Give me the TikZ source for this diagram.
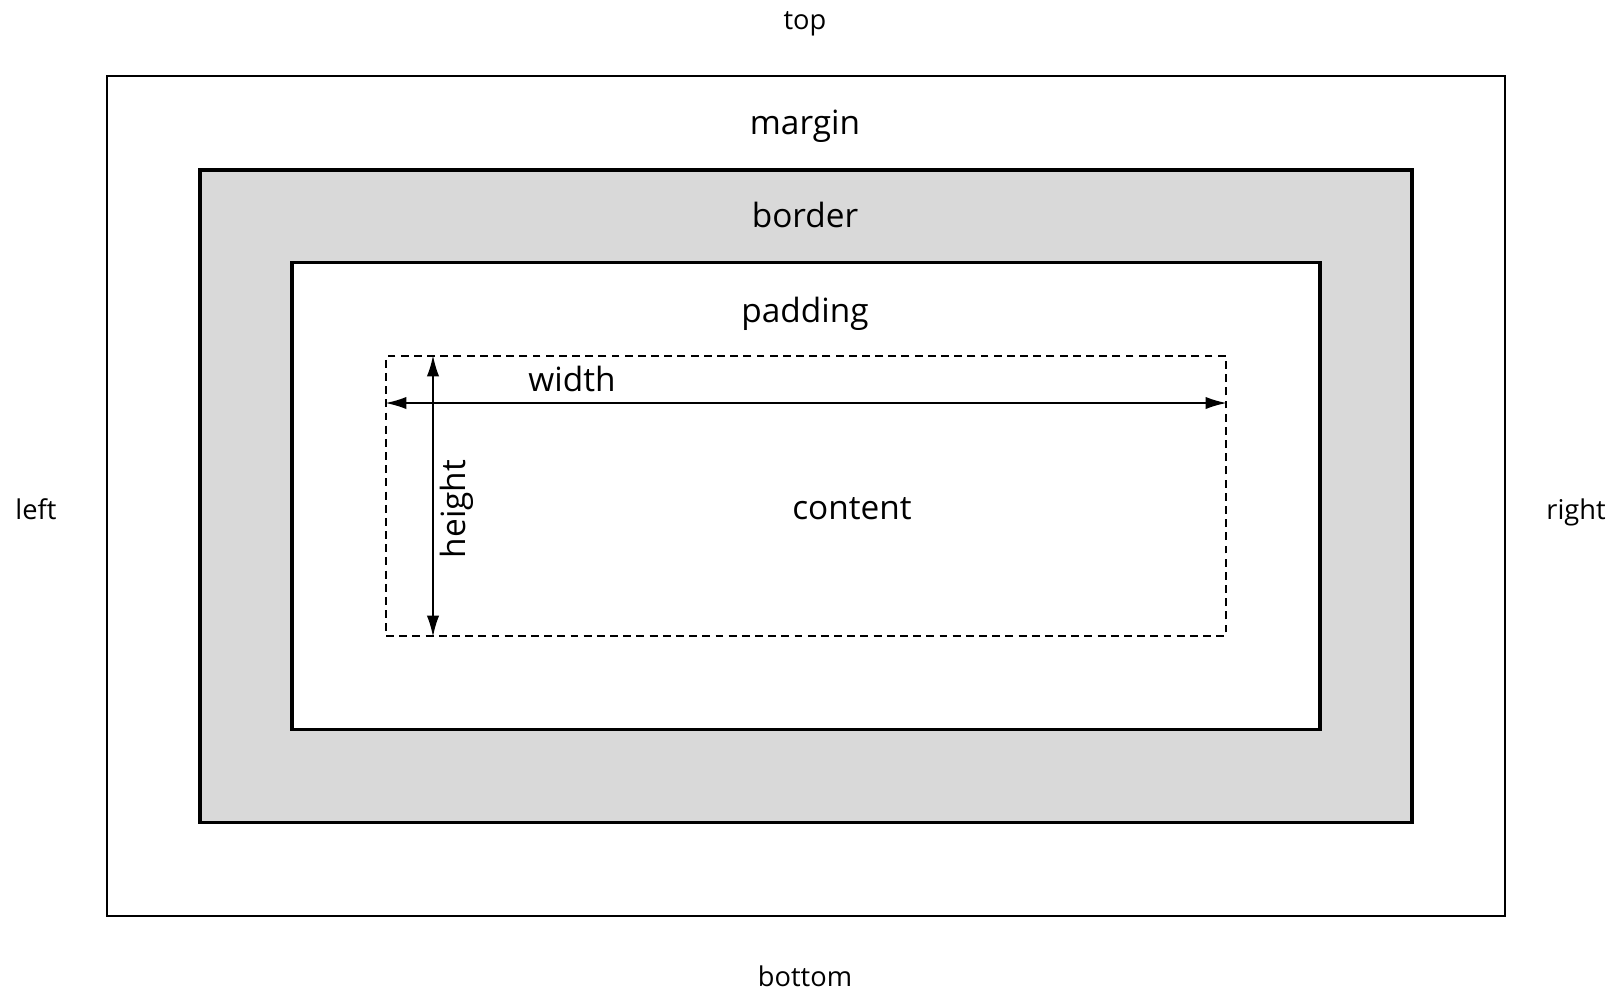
\documentclass[tikz,border=0pt]{standalone}
\usepackage{fontspec}
\setmainfont{Open Sans}
\usetikzlibrary{arrows.meta}
\definecolor{bordergray}{HTML}{D9D9D9}
\begin{document}
\begin{tikzpicture}[x=0.02cm,y=-0.02cm,
  box/.style={draw,line width=2.2pt,inner sep=0pt},
  big/.style={font=\fontsize{19}{23}\selectfont},
  small/.style={font=\fontsize{15.5}{19}\selectfont}]
  \useasboundingbox (0,0) rectangle (1619,992);
  % nested boxes
  \node[draw,line width=1.1pt,inner sep=0pt,minimum width=27.98cm,minimum height=16.8cm] (M) at (806,496) {};
  \node[box,fill=bordergray,minimum width=24.26cm,minimum height=13.06cm] (B) at (806,496) {};
  \node[box,fill=white,minimum width=20.56cm,minimum height=9.34cm] (P) at (806,496) {};
  \node[draw,line width=0.9pt,dash pattern=on 4.5pt off 3pt,inner sep=0pt,minimum width=16.8cm,minimum height=5.6cm] (C) at (806,496) {};
  % labels
  \node[small] (top) at (805,24) {top};
  \node[small] (bottom) at (805,976) {bottom};
  \node[small] (left) at (36,509) {left};
  \node[small] (right) at (1576,512) {right};
  \node[big] (margin) at (805,126) {margin};
  \node[big] (border) at (805,215) {border};
  \node[big] (padding) at (805,314) {padding};
  \node[big] (content) at (852,509) {content};
  % dimensions
  \coordinate (W) at (0,403);
  \coordinate (H) at (433,0);
  \draw[<->,line width=1.1pt,>={Latex[length=12pt,width=7pt]}] (C.west |- W) -- (C.east |- W);
  \draw[<->,line width=1.1pt,>={Latex[length=12pt,width=7pt]}] (H |- C.north) -- (H |- C.south);
  \node[big] (width) at (572,379) {width};
  \node[big,rotate=90] (height) at (457,509) {height};
\end{tikzpicture}
\end{document}
